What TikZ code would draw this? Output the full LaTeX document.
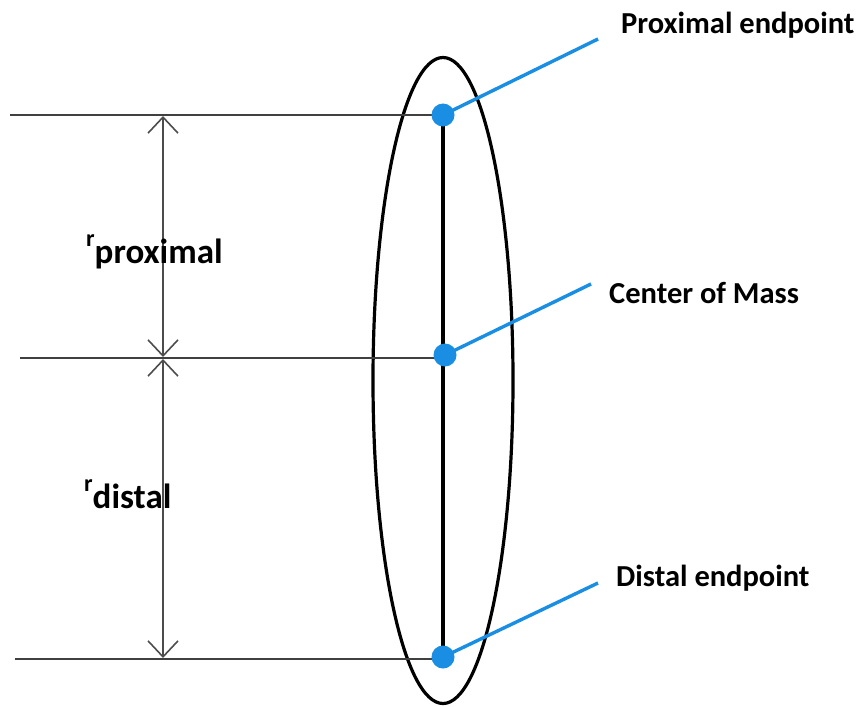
\documentclass[tikz,border=0pt]{standalone}
\usepackage{fontspec}
\setmainfont{Carlito}
\usetikzlibrary{arrows.meta,shapes.geometric}
\definecolor{dotblue}{HTML}{1A8EE3}
\begin{document}
\begin{tikzpicture}[x=1pt,y=-1pt,
  thinline/.style={line width=1.8pt, draw=black!75},
  dim/.style={line width=1.6pt, draw=black!70, arrows={Straight Barb[length=16pt,width=30pt,line width=1.6pt]-Straight Barb[length=16pt,width=30pt,line width=1.6pt]}},
  pointer/.style={line width=3.4pt, draw=dotblue},
  dot/.style={circle, fill=dotblue, minimum size=23pt, inner sep=0pt},
  lbl/.style={font=\bfseries\fontsize{30.5}{34}\selectfont, anchor=west, inner sep=0pt},
  rlbl/.style={font=\bfseries\fontsize{35}{38}\selectfont, anchor=west, inner sep=0pt}]
\useasboundingbox (0,0) rectangle (866,706);
% ellipse
\node (ell) [draw, line width=3.2pt, ellipse, minimum width=140pt, minimum height=646pt, inner sep=0pt] at (443,380.5) {};
% points
\coordinate (P) at (443,115);
\coordinate (C) at (445,355);
\coordinate (D) at (443,657);
% horizontal lines
\coordinate (L1) at (10,115);
\coordinate (L2) at (20,358);
\coordinate (L3) at (15,659);
\coordinate (R2) at (445,358);
\coordinate (R3) at (443,659);
\draw[thinline] (L1) -- (P);
\draw[thinline] (L2) -- (R2);
\draw[thinline] (L3) -- (R3);
% segment
\draw[line width=3.2pt] (P) -- (D);
% dimension lines
\coordinate (A1) at (163,116);
\coordinate (A2) at (163,357);
\coordinate (A3) at (163,359);
\coordinate (A4) at (163,658);
\draw[dim] (A1) -- (A2);
\draw[dim] (A3) -- (A4);
% labels
\node (lp) [lbl] at (621,25) {Proximal endpoint};
\node (lc) [lbl] at (609,293) {Center of Mass};
\node (ld) [lbl] at (616,578) {Distal endpoint};
\coordinate (PE) at (598,39);
\coordinate (CE) at (591,284);
\coordinate (DE) at (598,583);
\draw[pointer] (P) -- (PE);
\draw[pointer] (C) -- (CE);
\draw[pointer] (D) -- (DE);
\node (dP) [dot] at (P) {};
\node (dC) [dot] at (C) {};
\node (dD) [dot] at (D) {};
% r labels
\node (rp) [rlbl] at (86,252) {\raisebox{0.5em}{\fontsize{24}{26}\selectfont r}proximal};
\node (rd) [rlbl] at (84,494) {\raisebox{0.5em}{\fontsize{24}{26}\selectfont r}distal};
\end{tikzpicture}
\end{document}
